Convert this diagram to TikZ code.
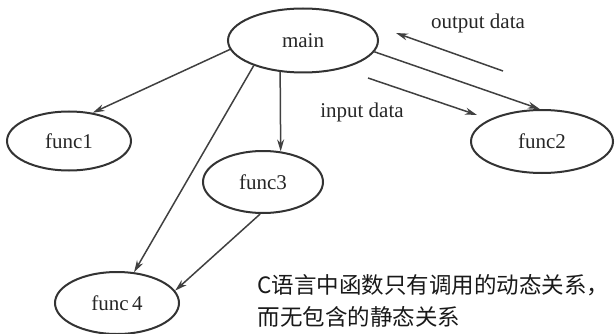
\documentclass[tikz,border=0pt]{standalone}
\usepackage{fontspec}
\setmainfont{Liberation Serif}
\newfontfamily\cjkfont{Noto Sans CJK SC}
\usetikzlibrary{shapes,calc,arrows.meta}

\begin{document}
\begin{tikzpicture}[x=1pt,y=-1pt,
  fn/.style={draw=black!80,line width=2pt,ellipse,inner sep=0pt,text=black!85,
    font=\fontsize{21}{24}\selectfont},
  call/.style={color=black!75,line width=1.5pt,-{Stealth[length=12pt,width=7pt]}},
  lbl/.style={text=black!85,font=\fontsize{21}{24}\selectfont}]
  \useasboundingbox (0,0) rectangle (615,334);

  \node[fn,minimum width=150pt,minimum height=64pt] (main) at (303,40.5) {main};
  \node[fn,minimum width=124pt,minimum height=59pt] (func1) at (69,141) {func1};
  \node[fn,minimum width=142pt,minimum height=63pt] (func2) at (542,141.5) {func2};
  \node[fn,minimum width=120pt,minimum height=62pt] (func3) at (263,182) {func3};
  \node[fn,minimum width=124pt,minimum height=62pt] (func4) at (117,303) {func\,4};

  \coordinate (out0) at (503,71);
  \coordinate (out1) at (396,33);
  \coordinate (in0) at (368,78);
  \coordinate (in1) at (477,115);
  \node[lbl] (outlbl) at (478,23) {output data};
  \node[lbl] (inlbl) at (362,112) {input data};

  \path[call] (main.187) edge (func1.50) (main.207) edge (func4.61)
              (main.234) edge (func3.60) (main.351) edge (func2.94);
  \path[call] (func3.265) edge (func4.12);
  \path[call] (out0) edge (out1) (in0) edge (in1);

  \node[anchor=west,align=left,text=black!90,font=\cjkfont\fontsize{22.5}{32}\selectfont] (note) at (254,301)
    {C语言中函数只有调用的动态关系，\\而无包含的静态关系};
\end{tikzpicture}
\end{document}
